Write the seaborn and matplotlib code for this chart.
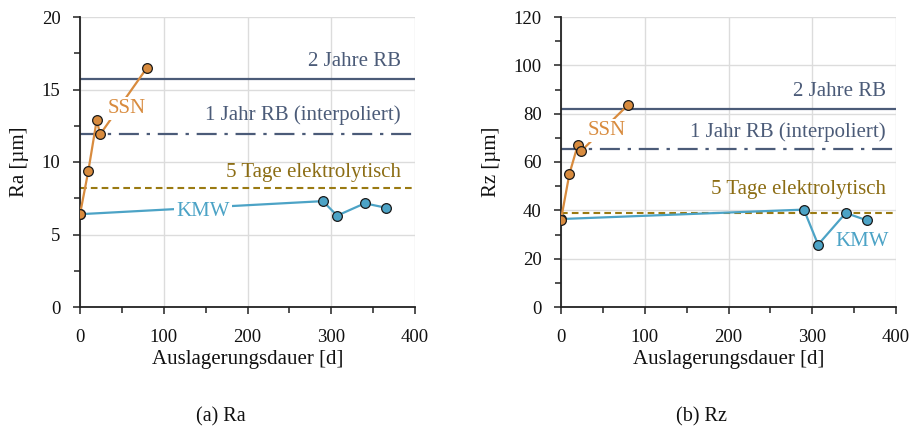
import matplotlib
matplotlib.use("Agg")
import matplotlib.pyplot as plt
import seaborn as sns
import pandas as pd
from matplotlib.ticker import MultipleLocator

sns.set_theme(style="white")
plt.rcParams['font.family'] = ['Liberation Serif', 'DejaVu Serif']

# ---------------- data ----------------
ssn_days = [0, 10, 20, 24, 80]
ssn_ra = [6.4, 9.4, 12.9, 11.9, 16.5]
ssn_rz = [36.2, 55.0, 67.0, 64.5, 83.6]

kmw_days = [0, 290, 307, 340, 365]
kmw_ra = [6.4, 7.3, 6.3, 7.15, 6.85]
kmw_rz = [36.4, 40.3, 25.8, 38.9, 35.9]

ref_labels = ["2 Jahre RB", "1 Jahr RB (interpoliert)", "5 Tage elektrolytisch"]
ref_ra = [15.75, 11.95, 8.2]
ref_rz = [81.8, 65.4, 38.8]

captions = ["(a) Ra", "(b) Rz"]
ylabels = ["Ra [µm]", "Rz [µm]"]
xlabel = "Auslagerungsdauer [d]"

# ---------------- styles ----------------
C_SSN = "#D88B3E"
C_KMW = "#4CA3C6"
C_RB = "#4B5B78"
C_EL = "#9A7A12"
C_ELT = "#8C6D14"

W, H = 919, 430
fig = plt.figure(figsize=(W / 100, H / 100), dpi=100)

def make_ax(x0):
    return fig.add_axes([x0 / W, (H - 307) / H, 335 / W, 290 / H])

axes = [make_ax(80), make_ax(561)]
ymax = [20, 120]
ymaj = [5, 20]
ymin_ = [2.5, 10]
series = [(ssn_ra, kmw_ra, ref_ra), (ssn_rz, kmw_rz, ref_rz)]

ssn_lab = [(33, 13.7), (32, 73.0)]
kmw_lab = [(147, 6.6), (360, 27.2)]
ref_lab_y = [[16.9, 13.25, 9.3], [89.1, 72.4, 48.6]]
ref_lab_x = [383, 388]

for i, ax in enumerate(axes):
    ssn, kmw, refs = series[i]
    ax.set_xlim(0, 400)
    ax.set_ylim(0, ymax[i])
    ax.xaxis.set_major_locator(MultipleLocator(100))
    ax.xaxis.set_minor_locator(MultipleLocator(50))
    ax.yaxis.set_major_locator(MultipleLocator(ymaj[i]))
    ax.yaxis.set_minor_locator(MultipleLocator(ymin_[i]))
    ax.grid(True, which="major", color="#DCDCDC", linewidth=1.0)
    ax.set_axisbelow(True)
    for s in ["top", "right"]:
        ax.spines[s].set_visible(False)
    for s in ["left", "bottom"]:
        ax.spines[s].set_color("#222222")
        ax.spines[s].set_linewidth(1.3)
    ax.tick_params(which="both", direction="out", color="#222222", width=1.1,
                   labelsize=13.5, labelcolor="#111111", bottom=True, left=True)
    ax.tick_params(which="major", length=5)
    ax.tick_params(which="minor", length=4)
    ax.tick_params(axis="x", which="major", pad=11)
    ax.tick_params(axis="y", which="major", pad=9)

    # reference lines
    ax.axhline(refs[0], color=C_RB, lw=1.6, zorder=2)
    ax.axhline(refs[1], color=C_RB, lw=1.6, dashes=(9, 3.5, 1.5, 3.5), zorder=2)
    ax.axhline(refs[2], color=C_EL, lw=1.5, dashes=(3.2, 2), zorder=2)
    cols = [C_RB, C_RB, C_ELT]
    for j, lab in enumerate(ref_labels):
        ax.text(ref_lab_x[i], ref_lab_y[i][j], lab, color=cols[j], fontsize=15,
                ha="right", va="center", zorder=3)

    df_k = pd.DataFrame({"d": kmw_days, "v": kmw})
    df_s = pd.DataFrame({"d": ssn_days, "v": ssn})
    sns.lineplot(data=df_k, x="d", y="v", ax=ax, color=C_KMW, lw=1.6, marker="o",
                 markersize=7, markeredgecolor="#1a1a1a", markeredgewidth=0.9,
                 markerfacecolor=C_KMW, zorder=4, sort=False)
    sns.lineplot(data=df_s, x="d", y="v", ax=ax, color=C_SSN, lw=1.6, marker="o",
                 markersize=7, markeredgecolor="#1a1a1a", markeredgewidth=0.9,
                 markerfacecolor=C_SSN, zorder=5, sort=False)

    ax.text(ssn_lab[i][0], ssn_lab[i][1], "SSN", color=C_SSN, fontsize=15,
            ha="left", va="center", zorder=6,
            bbox=dict(facecolor="white", edgecolor="none", pad=1.5))
    ax.text(kmw_lab[i][0], kmw_lab[i][1], "KMW", color=C_KMW, fontsize=15,
            ha="center", va="center", zorder=6,
            bbox=dict(facecolor="white", edgecolor="none", pad=1.5))

    ax.set_xlabel(xlabel, fontsize=15, color="#111111", labelpad=3)
    ax.set_ylabel(ylabels[i], fontsize=15, color="#111111", labelpad=9)

fig.text(221 / W, 1 - 417 / H, captions[0], fontsize=14.5, ha="center", va="center", color="#111111")
fig.text(701 / W, 1 - 417 / H, captions[1], fontsize=14.5, ha="center", va="center", color="#111111")

fig.savefig("out.png", dpi=100, facecolor="white")
